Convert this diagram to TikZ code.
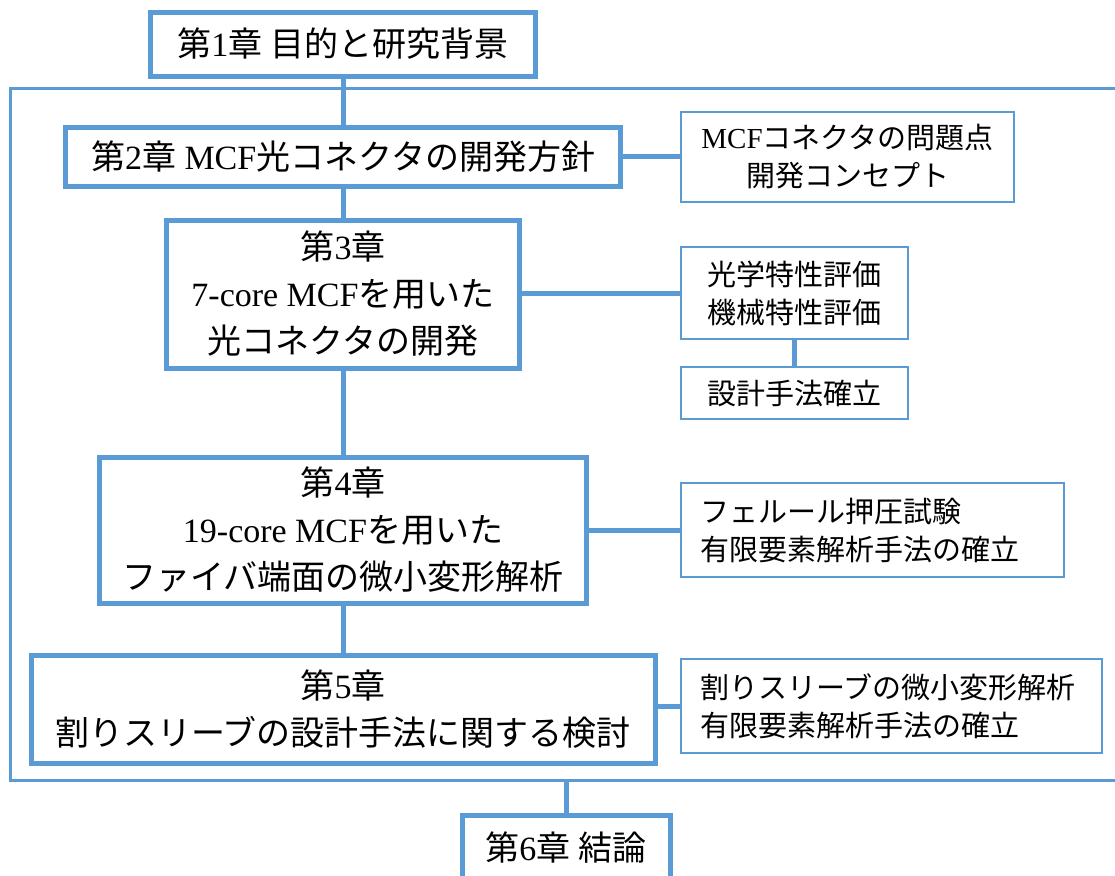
\documentclass[tikz,border=0pt]{standalone}
\usepackage{fontspec}
\setmainfont{Liberation Serif}
\newfontfamily\jpf{Noto Sans CJK JP}
\newcommand\J[1]{{\jpf #1}}
\definecolor{mblue}{HTML}{5B9BD5}
\begin{document}
\begin{tikzpicture}[x=0.5pt,y=-0.5pt,
  chap/.style={draw=mblue, line width=2.5pt, fill=white, inner sep=0pt, align=center,
    font=\fontsize{17}{23.5}\selectfont},
  side/.style={draw=mblue, line width=1pt, fill=white, inner sep=0pt, align=center,
    font=\fontsize{14.5}{19}\selectfont},
  sideleft/.style={side, align=left, inner xsep=9.5pt},
  link/.style={draw=mblue, line width=2.5pt},
  frame/.style={draw=mblue, line width=1.5pt}]
\useasboundingbox (0,0) rectangle (1115,875);
% outer frame
\draw[frame] (10,88) rectangle (1140,780);
\coordinate (fb) at (566,780);
% chapter boxes
\node[chap, minimum width=192.5pt, minimum height=32pt] (b1) at (343,44)
  {\J{第}1\J{章} \J{目的と研究背景}};
\node[chap, minimum width=277.5pt, minimum height=29.5pt] (b2) at (343,156.5)
  {\J{第}2\J{章} MCF\J{光コネクタの開発方針}};
\node[chap, minimum width=176.5pt, minimum height=74pt] (b3) at (343,294)
  {\J{第}3\J{章}\\7-core MCF\J{を用いた}\\\J{光コネクタの開発}};
\node[chap, minimum width=243.5pt, minimum height=73pt] (b4) at (343,530)
  {\J{第}4\J{章}\\19-core MCF\J{を用いた}\\\J{ファイバ端面の微小変形解析}};
\node[chap, minimum width=312pt, minimum height=54pt] (b5) at (343,709)
  {\J{第}5\J{章}\\\J{割りスリーブの設計手法に関する検討}};
\node[chap, minimum width=104pt, minimum height=33pt] (b6) at (566,848)
  {\J{第}6\J{章} \J{結論}};
% side boxes
\node[side, minimum width=166.5pt, minimum height=45pt] (sA) at (847.5,157)
  {MCF\J{コネクタの問題点}\\\J{開発コンセプト}};
\node[side, minimum width=113.5pt, minimum height=46pt] (sB) at (794.5,293)
  {\J{光学特性評価}\\\J{機械特性評価}};
\node[side, minimum width=113.5pt, minimum height=26pt] (sC) at (794.5,393)
  {\J{設計手法確立}};
\node[sideleft, text width=172.5pt, minimum height=47pt] (sD) at (872.5,530)
  {\J{フェルール押圧試験}\\\J{有限要素解析手法の確立}};
\node[sideleft, text width=191.5pt, minimum height=47pt] (sE) at (891.5,706)
  {\J{割りスリーブの微小変形解析}\\\J{有限要素解析手法の確立}};
% connectors
\draw[link] (b1.south) -- (b2.north);
\draw[link] (b2.south) -- (b3.north);
\draw[link] (b3.south) -- (b4.north);
\draw[link] (b4.south) -- (b5.north);
\draw[link] (b6.north) -- (b6.north |- fb);
\draw[link] (b2.east) -- (b2.east -| sA.west);
\draw[link] (sB.west -| b3.east) -- (sB.west);
\draw[link] (sB.south) -- (sC.north);
\draw[link] (sD.west -| b4.east) -- (sD.west);
\draw[link] (sE.west -| b5.east) -- (sE.west);
\end{tikzpicture}
\end{document}
